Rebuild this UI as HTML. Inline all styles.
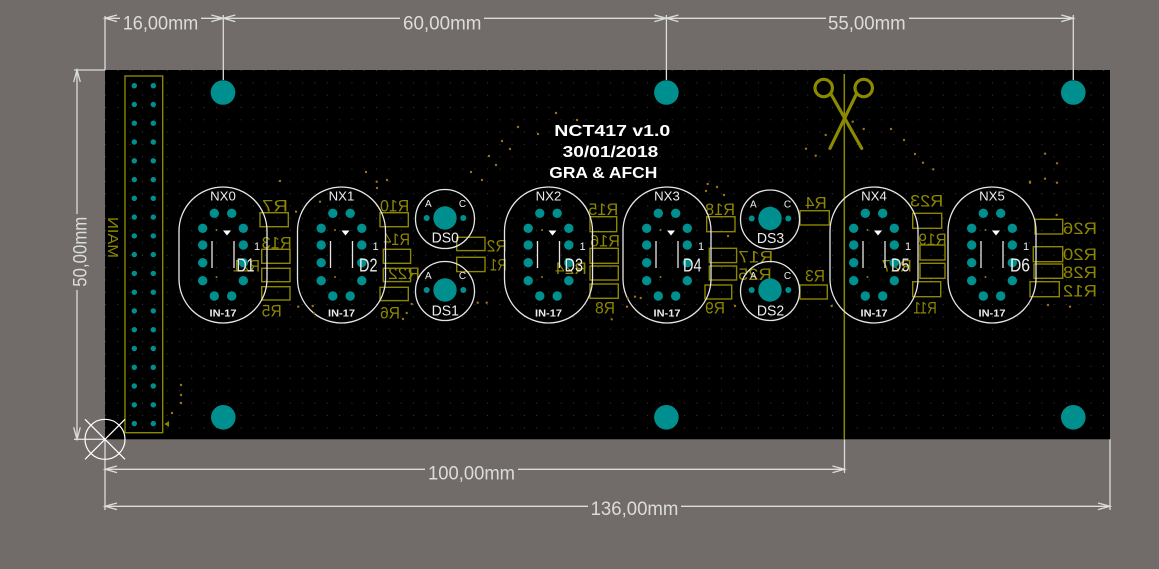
<!DOCTYPE html>
<html>
<head>
<meta charset="utf-8">
<style>
html,body{margin:0;padding:0;background:#716c6a;}
body{width:1159px;height:569px;overflow:hidden;}
svg{display:block;}
text{font-family:"Liberation Sans",sans-serif;}
</style>
</head>
<body>
<svg width="1159" height="569" viewBox="0 0 1159 569" xmlns="http://www.w3.org/2000/svg">
<defs>
  <pattern id="grid" width="12.32" height="12.32" patternUnits="userSpaceOnUse" x="105" y="70">
    <rect x="0" y="0" width="1" height="1" fill="#3a3a3a"/>
  </pattern>
  <g id="tb">
    <rect x="-44" y="187" width="88" height="136" rx="44" ry="44" fill="none" stroke="#e6e6e6" stroke-width="1.3"/>
    <g fill="#008f8f">
      <circle cx="-8.7" cy="213.3" r="4.7"/><circle cx="8.7" cy="213.3" r="4.7"/>
      <circle cx="-20.3" cy="228.3" r="4.7"/><circle cx="20.3" cy="228.3" r="4.7"/>
      <circle cx="-20.3" cy="245" r="4.7"/><circle cx="20.3" cy="245" r="4.7"/>
      <circle cx="-20.3" cy="262.7" r="4.7"/><circle cx="20.3" cy="262.7" r="4.7"/>
      <circle cx="-20.3" cy="280.7" r="4.7"/><circle cx="20.3" cy="280.7" r="4.7"/>
      <circle cx="-8.7" cy="296" r="4.7"/><circle cx="8.7" cy="296" r="4.7"/>
    </g>
    <line x1="-11" y1="241" x2="-11" y2="268" stroke="#e6e6e6" stroke-width="1.3"/>
    <line x1="11" y1="241" x2="11" y2="268" stroke="#e6e6e6" stroke-width="1.3"/>
    <polygon points="0,230.5 8,230.5 4,235.5" fill="#ffffff"/>
    <circle cx="-6.5" cy="230" r="1" fill="#9c7414"/>
    <circle cx="-6.5" cy="277" r="1" fill="#9c7414"/>
  </g>
  <g id="ds">
    <circle cx="0" cy="0" r="29.5" fill="none" stroke="#e6e6e6" stroke-width="1.3"/>
    <circle cx="0" cy="-1" r="11.7" fill="#008f8f"/>
    <circle cx="-18.3" cy="-1" r="3" fill="#008f8f"/>
    <circle cx="18.3" cy="-1" r="3" fill="#008f8f"/>
  </g>
  <g id="pp">
    <circle cx="134.3" cy="0" r="2.7" fill="#008f8f"/>
    <circle cx="153.3" cy="0" r="2.7" fill="#008f8f"/>
  </g>
</defs>

<!-- board -->
<rect x="105" y="70" width="1005" height="369.3" fill="#000"/>
<rect x="105" y="70" width="1005" height="369.3" fill="url(#grid)"/>

<!-- cut line -->
<line x1="844.3" y1="74" x2="844.3" y2="439" stroke="#8c8600" stroke-width="1.5"/>

<!-- scissors -->
<g stroke="#8c8a00" stroke-width="3.2" fill="none" stroke-linecap="round">
  <circle cx="823.7" cy="88" r="8.7"/>
  <circle cx="863.7" cy="88" r="8.7"/>
  <line x1="831" y1="94" x2="861.7" y2="148.3"/>
  <line x1="856.4" y1="94" x2="830" y2="148.3"/>
</g>

<!-- mounting holes -->
<g fill="#008f8f">
  <circle cx="223" cy="92.5" r="12.3"/>
  <circle cx="666.4" cy="92.5" r="12.3"/>
  <circle cx="1073.3" cy="92.5" r="12.3"/>
  <circle cx="223.3" cy="417.3" r="12.3"/>
  <circle cx="666.4" cy="417.3" r="12.3"/>
  <circle cx="1073.3" cy="417.3" r="12.3"/>
</g>

<!-- connector MAIN -->
<rect x="125" y="76" width="37.7" height="356.7" fill="none" stroke="#8c8600" stroke-width="1.4"/>
<use href="#pp" y="85.7"/><use href="#pp" y="104.5"/><use href="#pp" y="123.2"/><use href="#pp" y="142"/>
<use href="#pp" y="160.8"/><use href="#pp" y="179.6"/><use href="#pp" y="198.3"/><use href="#pp" y="217.1"/>
<use href="#pp" y="235.9"/><use href="#pp" y="254.6"/><use href="#pp" y="273.4"/><use href="#pp" y="292.2"/>
<use href="#pp" y="310.9"/><use href="#pp" y="329.7"/><use href="#pp" y="348.5"/><use href="#pp" y="367.3"/>
<use href="#pp" y="386"/><use href="#pp" y="404.8"/><use href="#pp" y="423.6"/>
<polygon points="164.5,424 169,421 169,427" fill="#8c8600"/>
<text transform="translate(108,237.5) rotate(-90) scale(1,-1)" text-anchor="middle" font-size="15" fill="#8c8600" textLength="41" lengthAdjust="spacingAndGlyphs">MAIN</text>

<!-- title -->
<g fill="#ffffff" font-weight="bold" font-size="15.5">
  <text x="554.3" y="136" textLength="116" lengthAdjust="spacingAndGlyphs">NCT417 v1.0</text>
  <text x="562.7" y="157" textLength="95.6" lengthAdjust="spacingAndGlyphs">30/01/2018</text>
  <text x="549.3" y="178" textLength="108" lengthAdjust="spacingAndGlyphs">GRA &amp; AFCH</text>
</g>

<!-- resistor outlines -->
<g fill="none" stroke="#8c8600" stroke-width="1.4">
  <rect x="260" y="212.7" width="28.3" height="14"/>
  <rect x="261.7" y="249.3" width="28.3" height="14"/>
  <rect x="261.7" y="268.3" width="28.3" height="13.4"/>
  <rect x="261.7" y="286.7" width="28.3" height="13.3"/>
  <rect x="380" y="212.7" width="28.3" height="14"/>
  <rect x="383.3" y="249.3" width="27.3" height="14"/>
  <rect x="383.3" y="268.3" width="27.3" height="13.3"/>
  <rect x="380" y="287.3" width="28.3" height="13.3"/>
  <rect x="456.7" y="237.3" width="28.3" height="13.3"/>
  <rect x="456.7" y="257.3" width="28.3" height="14.3"/>
  <rect x="590" y="216.7" width="26.7" height="15"/>
  <rect x="590" y="248.3" width="28.3" height="15"/>
  <rect x="590" y="266" width="28.3" height="14"/>
  <rect x="590" y="284" width="28.3" height="14.3"/>
  <rect x="706.7" y="216.7" width="28.3" height="15"/>
  <rect x="709.3" y="248.3" width="27.3" height="14.3"/>
  <rect x="709.3" y="266" width="27.3" height="14"/>
  <rect x="705" y="285" width="26.7" height="14"/>
  <rect x="800" y="210.7" width="29.3" height="14.3"/>
  <rect x="800" y="285" width="27.3" height="14"/>
  <rect x="912.7" y="213.3" width="29" height="15"/>
  <rect x="920" y="245" width="25" height="15"/>
  <rect x="920" y="263.3" width="25" height="15"/>
  <rect x="912.7" y="281.7" width="28" height="15"/>
  <rect x="1035" y="219.3" width="27.7" height="14.7"/>
  <rect x="1033.3" y="246.7" width="29.4" height="15"/>
  <rect x="1034" y="264" width="28.7" height="14.3"/>
  <rect x="1030" y="281.7" width="29.3" height="15"/>
</g>

<!-- mirrored resistor labels -->
<g fill="#8c8600" font-size="17">
  <text transform="matrix(-1 0 0 1 288 0)" x="0" y="211.7" textLength="26" lengthAdjust="spacingAndGlyphs">R7</text>
  <text transform="matrix(-1 0 0 1 291.7 0)" x="0" y="248.3" textLength="30" lengthAdjust="spacingAndGlyphs">R13</text>
  <text transform="matrix(-1 0 0 1 281.7 0)" x="0" y="316.7" textLength="20" lengthAdjust="spacingAndGlyphs">R5</text>
  <text transform="matrix(-1 0 0 1 260 0)" x="0" y="271.7" textLength="27.3" lengthAdjust="spacingAndGlyphs">R21</text>
  <text transform="matrix(-1 0 0 1 409.3 0)" x="0" y="211.7" textLength="29.3" lengthAdjust="spacingAndGlyphs">R10</text>
  <text transform="matrix(-1 0 0 1 410 0)" x="0" y="245" textLength="26.7" lengthAdjust="spacingAndGlyphs">R14</text>
  <text transform="matrix(-1 0 0 1 400 0)" x="0" y="318.3" textLength="20" lengthAdjust="spacingAndGlyphs">R6</text>
  <text transform="matrix(-1 0 0 1 420 0)" x="0" y="279" textLength="32" lengthAdjust="spacingAndGlyphs">R22</text>
  <text transform="matrix(-1 0 0 1 506.7 0)" x="0" y="251.7" textLength="20" lengthAdjust="spacingAndGlyphs">R2</text>
  <text transform="matrix(-1 0 0 1 506.7 0)" x="0" y="270.7" textLength="16.7" lengthAdjust="spacingAndGlyphs">R1</text>
  <text transform="matrix(-1 0 0 1 586.7 0)" x="0" y="274" textLength="31.7" lengthAdjust="spacingAndGlyphs">R24</text>
  <text transform="matrix(-1 0 0 1 618.3 0)" x="0" y="215" textLength="30" lengthAdjust="spacingAndGlyphs">R15</text>
  <text transform="matrix(-1 0 0 1 620 0)" x="0" y="246.7" textLength="30" lengthAdjust="spacingAndGlyphs">R16</text>
  <text transform="matrix(-1 0 0 1 615 0)" x="0" y="313.3" textLength="20" lengthAdjust="spacingAndGlyphs">R8</text>
  <text transform="matrix(-1 0 0 1 735 0)" x="0" y="215" textLength="30" lengthAdjust="spacingAndGlyphs">R18</text>
  <text transform="matrix(-1 0 0 1 773.3 0)" x="0" y="262.7" textLength="35" lengthAdjust="spacingAndGlyphs">R17</text>
  <text transform="matrix(-1 0 0 1 771.7 0)" x="0" y="280" textLength="33.7" lengthAdjust="spacingAndGlyphs">R25</text>
  <text transform="matrix(-1 0 0 1 725 0)" x="0" y="313.3" textLength="20" lengthAdjust="spacingAndGlyphs">R9</text>
  <text transform="matrix(-1 0 0 1 826.7 0)" x="0" y="208.3" textLength="21.7" lengthAdjust="spacingAndGlyphs">R4</text>
  <text transform="matrix(-1 0 0 1 825 0)" x="0" y="281.7" textLength="20" lengthAdjust="spacingAndGlyphs">R3</text>
  <text transform="matrix(-1 0 0 1 943.3 0)" x="0" y="206.7" textLength="33.3" lengthAdjust="spacingAndGlyphs">R23</text>
  <text transform="matrix(-1 0 0 1 946.7 0)" x="0" y="245" textLength="28.4" lengthAdjust="spacingAndGlyphs">R19</text>
  <text transform="matrix(-1 0 0 1 911.7 0)" x="0" y="271.7" textLength="30" lengthAdjust="spacingAndGlyphs">R27</text>
  <text transform="matrix(-1 0 0 1 936.7 0)" x="0" y="313.3" textLength="23.4" lengthAdjust="spacingAndGlyphs">R11</text>
  <text transform="matrix(-1 0 0 1 1097 0)" x="0" y="234" textLength="34" lengthAdjust="spacingAndGlyphs">R26</text>
  <text transform="matrix(-1 0 0 1 1097 0)" x="0" y="260" textLength="34" lengthAdjust="spacingAndGlyphs">R20</text>
  <text transform="matrix(-1 0 0 1 1097 0)" x="0" y="278" textLength="34" lengthAdjust="spacingAndGlyphs">R28</text>
  <text transform="matrix(-1 0 0 1 1097 0)" x="0" y="296.5" textLength="34" lengthAdjust="spacingAndGlyphs">R12</text>
</g>

<!-- tubes -->
<use href="#tb" x="223"/>
<use href="#tb" x="341.5"/>
<use href="#tb" x="548.5"/>
<use href="#tb" x="667"/>
<use href="#tb" x="874"/>
<use href="#tb" x="992"/>

<g fill="#ececec">
  <g font-size="12.5" text-anchor="middle">
    <text x="223" y="200.7" textLength="25.7" lengthAdjust="spacingAndGlyphs">NX0</text>
    <text x="341.5" y="200.7" textLength="25.7" lengthAdjust="spacingAndGlyphs">NX1</text>
    <text x="548.5" y="200.7" textLength="25.7" lengthAdjust="spacingAndGlyphs">NX2</text>
    <text x="667" y="200.7" textLength="25.7" lengthAdjust="spacingAndGlyphs">NX3</text>
    <text x="874" y="200.7" textLength="25.7" lengthAdjust="spacingAndGlyphs">NX4</text>
    <text x="992" y="200.7" textLength="25.7" lengthAdjust="spacingAndGlyphs">NX5</text>
  </g>
  <g font-size="10" font-weight="bold" text-anchor="middle">
    <text x="223" y="316.7" textLength="27" lengthAdjust="spacingAndGlyphs">IN-17</text>
    <text x="341.5" y="316.7" textLength="27" lengthAdjust="spacingAndGlyphs">IN-17</text>
    <text x="548.5" y="316.7" textLength="27" lengthAdjust="spacingAndGlyphs">IN-17</text>
    <text x="667" y="316.7" textLength="27" lengthAdjust="spacingAndGlyphs">IN-17</text>
    <text x="874" y="316.7" textLength="27" lengthAdjust="spacingAndGlyphs">IN-17</text>
    <text x="992" y="316.7" textLength="27" lengthAdjust="spacingAndGlyphs">IN-17</text>
  </g>
  <g font-size="11">
    <text x="254" y="250">1</text>
    <text x="372.5" y="250">1</text>
    <text x="579.5" y="250">1</text>
    <text x="698" y="250">1</text>
    <text x="905" y="250">1</text>
    <text x="1023" y="250">1</text>
  </g>
  <g font-size="18">
    <text x="236.5" y="271.7" textLength="18" lengthAdjust="spacingAndGlyphs">D1</text>
    <text x="359" y="271.7" textLength="18.5" lengthAdjust="spacingAndGlyphs">D2</text>
    <text x="564.5" y="271.7" textLength="18.5" lengthAdjust="spacingAndGlyphs">D3</text>
    <text x="683" y="271.7" textLength="18.5" lengthAdjust="spacingAndGlyphs">D4</text>
    <text x="891" y="271.7" textLength="18.5" lengthAdjust="spacingAndGlyphs">D5</text>
    <text x="1010" y="271.7" textLength="20" lengthAdjust="spacingAndGlyphs">D6</text>
  </g>
</g>

<!-- DS displays -->
<use href="#ds" x="445" y="219"/>
<use href="#ds" x="445" y="291"/>
<use href="#ds" x="770" y="219.5"/>
<use href="#ds" x="770" y="291"/>
<g fill="#ececec">
  <g font-size="10" text-anchor="middle">
    <text x="428.3" y="207">A</text><text x="462.5" y="207">C</text>
    <text x="428.3" y="279">A</text><text x="462.5" y="279">C</text>
    <text x="753.3" y="207.5">A</text><text x="787.5" y="207.5">C</text>
    <text x="753.3" y="279">A</text><text x="787.5" y="279">C</text>
  </g>
  <g font-size="15" text-anchor="middle">
    <text x="445.3" y="242.7" textLength="27.3" lengthAdjust="spacingAndGlyphs">DS0</text>
    <text x="445.3" y="315.5" textLength="27.3" lengthAdjust="spacingAndGlyphs">DS1</text>
    <text x="770.5" y="243" textLength="27.3" lengthAdjust="spacingAndGlyphs">DS3</text>
    <text x="770.5" y="315.5" textLength="27.3" lengthAdjust="spacingAndGlyphs">DS2</text>
  </g>
</g>

<!-- scattered vias/dots -->
<g fill="#9c7414">
  <circle cx="556" cy="113" r="1.2"/><circle cx="577" cy="120" r="1.2"/><circle cx="518" cy="127" r="1.2"/>
  <circle cx="538" cy="134" r="1.2"/><circle cx="502" cy="141" r="1.2"/><circle cx="510" cy="149" r="1.2"/>
  <circle cx="489" cy="156" r="1.2"/><circle cx="496" cy="165" r="1.2"/><circle cx="471" cy="172" r="1.2"/>
  <circle cx="482" cy="180" r="1.2"/><circle cx="366" cy="172" r="1.2"/><circle cx="387" cy="180" r="1.2"/>
  <circle cx="377" cy="188" r="1.2"/><circle cx="280" cy="181" r="1.2"/><circle cx="706" cy="191" r="1.2"/>
  <circle cx="717" cy="187" r="1.2"/>
  <circle cx="852.7" cy="121.7" r="1.2"/><circle cx="863.7" cy="129" r="1.2"/><circle cx="891" cy="129" r="1.2"/>
  <circle cx="825.7" cy="135" r="1.2"/><circle cx="904" cy="140" r="1.2"/><circle cx="806" cy="148.7" r="1.2"/>
  <circle cx="815.7" cy="155.7" r="1.2"/><circle cx="915" cy="154" r="1.2"/><circle cx="923" cy="162.7" r="1.2"/>
  <circle cx="933.3" cy="169.3" r="1.2"/><circle cx="1045" cy="153.7" r="1.2"/><circle cx="1057" cy="163.3" r="1.2"/>
  <circle cx="1045" cy="178.7" r="1.2"/><circle cx="1030" cy="182.7" r="1.2"/><circle cx="1057" cy="182.7" r="1.2"/>
  <circle cx="181" cy="385" r="1.2"/><circle cx="181" cy="395" r="1.2"/><circle cx="181" cy="403" r="1.2"/>
  <circle cx="172" cy="413" r="1.2"/>
  <circle cx="707.7" cy="184" r="1.2"/><circle cx="724" cy="195" r="1.2"/><circle cx="728" cy="236" r="1.2"/>
  <circle cx="735" cy="306" r="1.2"/><circle cx="640.7" cy="298" r="1.2"/><circle cx="627" cy="306.7" r="1.2"/>
  <circle cx="831.7" cy="306" r="1.2"/><circle cx="1030" cy="181.7" r="1.2"/><circle cx="1056.7" cy="215" r="1.2"/>
  <circle cx="1048" cy="305" r="1.2"/><circle cx="1070" cy="306.7" r="1.2"/>
  <circle cx="296" cy="211.7" r="1.2"/><circle cx="298.3" cy="306.7" r="1.2"/><circle cx="312.7" cy="306" r="1.2"/>
  <circle cx="314" cy="313.3" r="1.2"/><circle cx="376.7" cy="181.7" r="1.2"/><circle cx="403" cy="319" r="1.2"/>
  <circle cx="406.7" cy="313" r="1.2"/><circle cx="411.7" cy="304" r="1.2"/><circle cx="477.7" cy="302.7" r="1.2"/>
  <circle cx="486.7" cy="302.7" r="1.2"/><circle cx="611.7" cy="319.3" r="1.2"/><circle cx="627.7" cy="298.3" r="1.2"/>
  <circle cx="635" cy="296.7" r="1.2"/><circle cx="320" cy="201.7" r="1.2"/>
</g>

<!-- dimensions -->
<g stroke="#dcdcdc" stroke-width="1.3" fill="none">
  <!-- top -->
  <line x1="105" y1="18.3" x2="1073.3" y2="18.3"/>
  <line x1="105" y1="16" x2="105" y2="70"/>
  <line x1="223.3" y1="15" x2="223.3" y2="80"/>
  <line x1="666.4" y1="15" x2="666.4" y2="80"/>
  <line x1="1073.3" y1="15" x2="1073.3" y2="80"/>
  <polyline points="117,15 105,18.3 117,21.6"/>
  <polyline points="211.3,15 223.3,18.3 211.3,21.6"/>
  <polyline points="235.3,15 223.3,18.3 235.3,21.6"/>
  <polyline points="654.4,15 666.4,18.3 654.4,21.6"/>
  <polyline points="678.4,15 666.4,18.3 678.4,21.6"/>
  <polyline points="1061.3,15 1073.3,18.3 1061.3,21.6"/>
  <!-- left -->
  <line x1="77" y1="70" x2="77" y2="439.3"/>
  <line x1="74" y1="70" x2="105" y2="70"/>
  <line x1="74" y1="439.3" x2="105" y2="439.3"/>
  <polyline points="73.7,82 77,70 80.3,82"/>
  <polyline points="73.7,427.3 77,439.3 80.3,427.3"/>
  <!-- bottom -->
  <line x1="105" y1="439.3" x2="105" y2="510"/>
  <line x1="105" y1="469.3" x2="844.5" y2="469.3"/>
  <line x1="844.5" y1="439.3" x2="844.5" y2="473"/>
  <polyline points="117,466 105,469.3 117,472.6"/>
  <polyline points="832.5,466 844.5,469.3 832.5,472.6"/>
  <line x1="105" y1="506.3" x2="1110" y2="506.3"/>
  <line x1="1110" y1="439.3" x2="1110" y2="510"/>
  <polyline points="117,503 105,506.3 117,509.6"/>
  <polyline points="1098,503 1110,506.3 1098,509.6"/>
</g>
<!-- text gaps -->
<g fill="#716c6a">
  <rect x="120" y="13" width="81" height="19"/>
  <rect x="400" y="13" width="84" height="19"/>
  <rect x="826" y="13" width="83" height="19"/>
  <rect x="70" y="214" width="20" height="76"/>
  <rect x="425" y="463" width="93" height="19"/>
  <rect x="588" y="500" width="93" height="19"/>
</g>
<g fill="#dcdcdc" font-size="19">
  <text x="122.7" y="29.3" textLength="75.6" lengthAdjust="spacingAndGlyphs">16,00mm</text>
  <text x="403" y="29.3" textLength="78.4" lengthAdjust="spacingAndGlyphs">60,00mm</text>
  <text x="828" y="29.3" textLength="77.6" lengthAdjust="spacingAndGlyphs">55,00mm</text>
  <text x="428" y="479.3" textLength="87" lengthAdjust="spacingAndGlyphs">100,00mm</text>
  <text x="590.6" y="515" textLength="87.8" lengthAdjust="spacingAndGlyphs">136,00mm</text>
  <text transform="translate(86.7,286.7) rotate(-90)" x="0" y="0" textLength="70" lengthAdjust="spacingAndGlyphs">50,00mm</text>
</g>

<!-- origin marker -->
<g stroke="#ffffff" stroke-width="1.2" fill="none">
  <circle cx="105" cy="439.3" r="20"/>
  <line x1="85" y1="419.3" x2="125" y2="459.3"/>
  <line x1="125" y1="419.3" x2="85" y2="459.3"/>
</g>
</svg>
</body>
</html>
